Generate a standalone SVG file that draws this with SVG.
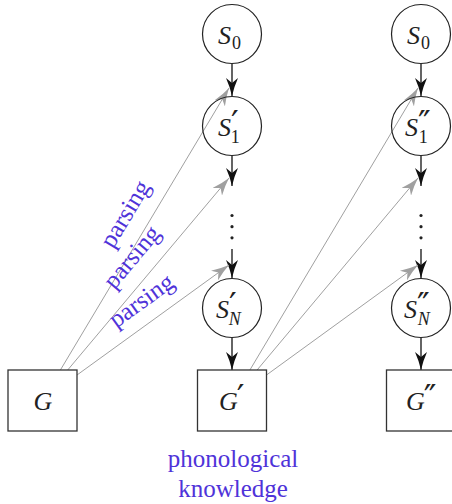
<svg xmlns="http://www.w3.org/2000/svg" width="452" height="504" viewBox="0 0 452 504">
<style>
.node circle{fill:none;stroke:#222;stroke-width:1.2}
.node rect{fill:none;stroke:#333;stroke-width:1.3}
.m{font-family:"Liberation Serif","DejaVu Serif",serif;font-style:italic;font-size:26px;fill:#222}
.sub{font-style:normal;font-size:18px}
.subi{font-size:18px}
.pr{font-style:normal;font-family:"DejaVu Sans","Liberation Sans",sans-serif;font-size:34px}
.lbl{font-family:"Liberation Serif","DejaVu Serif",serif;font-size:25px;fill:#4f33d9}
.blk{stroke:#111;stroke-width:1.3;fill:none}
.gry{stroke:#a0a0a0;stroke-width:1;fill:none}
.dot{fill:#222}
</style>
<defs>
<marker id="ab" viewBox="0 0 18 12" refX="18" refY="6" markerWidth="18" markerHeight="12" markerUnits="userSpaceOnUse" orient="auto">
<path d="M18,6 Q9,4 0,0 L5,6 L0,12 Q9,8 18,6 Z" fill="#111"/>
</marker>
<marker id="ag" viewBox="0 0 18 12" refX="18" refY="6" markerWidth="18" markerHeight="12" markerUnits="userSpaceOnUse" orient="auto">
<path d="M18,6 Q9,4 0,0 L5,6 L0,12 Q9,8 18,6 Z" fill="#a0a0a0"/>
</marker>
</defs>

<g id="connectors">
<line class="blk" x1="232" y1="64" x2="232" y2="96" marker-end="url(#ab)"/>
<line class="blk" x1="232" y1="156" x2="232" y2="186" marker-end="url(#ab)"/>
<line class="blk" x1="232" y1="249" x2="232" y2="278" marker-end="url(#ab)"/>
<line class="blk" x1="232" y1="338" x2="232" y2="370" marker-end="url(#ab)"/>
<line class="blk" x1="421" y1="64" x2="421" y2="96" marker-end="url(#ab)"/>
<line class="blk" x1="421" y1="156" x2="421" y2="186" marker-end="url(#ab)"/>
<line class="blk" x1="421" y1="249" x2="421" y2="278" marker-end="url(#ab)"/>
<line class="blk" x1="421" y1="338" x2="421" y2="370" marker-end="url(#ab)"/>
<line class="gry" x1="60.4" y1="370" x2="229" y2="88" marker-end="url(#ag)"/>
<line class="gry" x1="67.7" y1="370" x2="229" y2="178" marker-end="url(#ag)"/>
<line class="gry" x1="77" y1="375" x2="229" y2="265" marker-end="url(#ag)"/>
<line class="gry" x1="249.9" y1="370" x2="418" y2="88" marker-end="url(#ag)"/>
<line class="gry" x1="257.1" y1="370" x2="418" y2="178" marker-end="url(#ag)"/>
<line class="gry" x1="266.5" y1="375" x2="418" y2="265" marker-end="url(#ag)"/>
<circle class="dot" cx="232" cy="215.5" r="1.6"/>
<circle class="dot" cx="232" cy="226.7" r="1.6"/>
<circle class="dot" cx="232" cy="237.8" r="1.6"/>
<circle class="dot" cx="421" cy="215.5" r="1.6"/>
<circle class="dot" cx="421" cy="226.7" r="1.6"/>
<circle class="dot" cx="421" cy="237.8" r="1.6"/>
<text class="lbl" text-anchor="middle" transform="translate(132,218) rotate(-59.1)">parsing</text>
<text class="lbl" text-anchor="middle" transform="translate(138,262) rotate(-50)">parsing</text>
<text class="lbl" text-anchor="middle" transform="translate(146,307) rotate(-35.9)">parsing</text>
</g>

<g id="S0a" class="node"><circle cx="232" cy="34" r="29.5"/><text class="m" x="218" y="44">S<tspan class="sub" dx="1" dy="5">0</tspan></text></g>
<g id="S1a" class="node"><circle cx="232" cy="126" r="29.5"/><text class="m" x="218" y="136">S<tspan class="pr" dx="0" dy="-1">′</tspan><tspan class="sub" dx="-8" dy="8">1</tspan></text></g>
<g id="SNa" class="node"><circle cx="232" cy="308" r="29.5"/><text class="m" x="216" y="318">S<tspan class="pr" dx="0" dy="-1">′</tspan><tspan class="subi" dx="-8" dy="8">N</tspan></text></g>
<g id="G" class="node"><rect x="8" y="370" width="69" height="61"/><text class="m" x="43" y="410" text-anchor="middle">G</text></g>
<g id="Ga" class="node"><rect x="197.5" y="370" width="69" height="61"/><text class="m" x="219" y="410">G<tspan class="pr" dx="-1" dy="-1">′</tspan></text></g>

<g id="S0b" class="node"><circle cx="421" cy="34" r="29.5"/><text class="m" x="407" y="44">S<tspan class="sub" dx="1" dy="5">0</tspan></text></g>
<g id="S1b" class="node"><circle cx="421" cy="126" r="29.5"/><text class="m" x="405" y="136">S<tspan class="pr" dx="0" dy="-1">″</tspan><tspan class="sub" dx="-12" dy="8">1</tspan></text></g>
<g id="SNb" class="node"><circle cx="421" cy="308" r="29.5"/><text class="m" x="404" y="318">S<tspan class="pr" dx="0" dy="-1">″</tspan><tspan class="subi" dx="-12" dy="8">N</tspan></text></g>
<g id="Gb" class="node"><rect x="386.5" y="370" width="69" height="61"/><text class="m" x="406" y="410">G<tspan class="pr" dx="-1" dy="-1">″</tspan></text></g>

<g id="phon"><text class="lbl" x="233" y="467" text-anchor="middle">phonological</text><text class="lbl" x="233" y="497" text-anchor="middle">knowledge</text></g>
</svg>
